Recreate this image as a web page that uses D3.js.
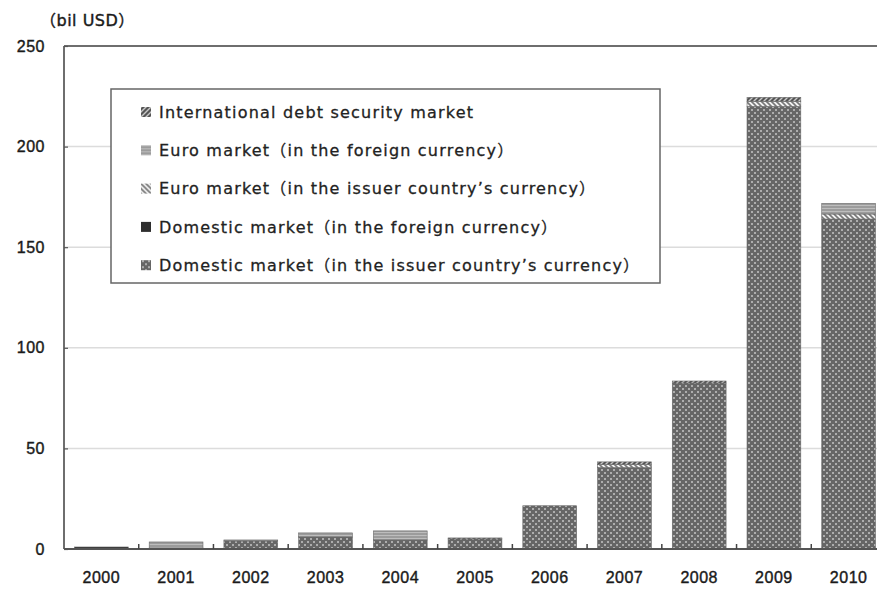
<!DOCTYPE html>
<html lang="en">
<head>
    <meta charset="UTF-8">
    <title>Debt security issuance by market</title>
    <script src="https://d3js.org/d3.v7.min.js"></script>
    <style>
        body { margin: 0; background: #fff; }
        svg { display: block; font-family: "DejaVu Sans", "Noto Sans CJK JP", sans-serif; }
        .tick-label { font-size: 16px; fill: #1a1a1a; stroke: #1a1a1a; stroke-width: 0.4px; letter-spacing: 0.5px; }
        .legend-text { font-size: 16px; fill: #222; stroke: #222; stroke-width: 0.3px; letter-spacing: 1.2px; }
    </style>
</head>
<body>
    <svg id="chart" width="877" height="593"></svg>
    <script>
        const years = ["2000", "2001", "2002", "2003", "2004", "2005", "2006", "2007", "2008", "2009", "2010"];
        const domIssuer   = [0.3, 0.5, 4, 6, 4.5, 5, 21.5, 40.5, 82.5, 220, 164];
        const domForeign  = [0.7, 0, 0, 0, 0, 0, 0, 0, 0, 0, 0];
        const euroIssuer  = [0, 0, 0, 0, 0, 0, 0, 1.5, 0, 2.5, 2.5];
        const euroForeign = [0, 3, 0.5, 2, 4.5, 0, 0, 0, 0, 0, 5.3];
        const intl        = [0, 0, 0, 0, 0, 0.5, 0, 1.3, 1, 2, 0];
        const yTicks = [0, 50, 100, 150, 200, 250];

        // stacking order bottom -> top
        const seriesKeys = ["domIssuer", "domForeign", "euroIssuer", "euroForeign", "intl"];
        const seriesVals = { domIssuer, domForeign, euroIssuer, euroForeign, intl };
        // legend order top -> bottom
        const legendItems = [
            { key: "intl", label: "International debt security market" },
            { key: "euroForeign", label: "Euro market（in the foreign currency）" },
            { key: "euroIssuer", label: "Euro market（in the issuer country’s currency）" },
            { key: "domForeign", label: "Domestic market（in the foreign currency）" },
            { key: "domIssuer", label: "Domestic market（in the issuer country’s currency）" }
        ];

        const table = years.map((y, i) => {
            const row = { year: y };
            seriesKeys.forEach(k => row[k] = seriesVals[k][i]);
            return row;
        });

        const svg = d3.select("#chart");
        const plot = { left: 64, top: 46, bottom: 549, right: 886 };

        // patterns
        const defs = svg.append("defs");
        const pDom = defs.append("pattern").attr("id", "p-domIssuer")
            .attr("patternUnits", "userSpaceOnUse").attr("width", 6).attr("height", 6);
        pDom.append("rect").attr("width", 6).attr("height", 6).attr("fill", "#666");
        pDom.append("rect").attr("x", 1).attr("y", 1).attr("width", 2).attr("height", 2).attr("fill", "#adadad");
        pDom.append("rect").attr("x", 4).attr("y", 4).attr("width", 2).attr("height", 2).attr("fill", "#adadad");

        const pEI = defs.append("pattern").attr("id", "p-euroIssuer")
            .attr("patternUnits", "userSpaceOnUse").attr("width", 5).attr("height", 5);
        pEI.append("rect").attr("width", 5).attr("height", 5).attr("fill", "#f2f2f2");
        pEI.append("path").attr("d", "M0,0L5,5M-1,4L1,6M4,-1L6,1").attr("stroke", "#777").attr("stroke-width", 1.6);

        const pEF = defs.append("pattern").attr("id", "p-euroForeign")
            .attr("patternUnits", "userSpaceOnUse").attr("width", 4).attr("height", 3);
        pEF.append("rect").attr("width", 4).attr("height", 3).attr("fill", "#9c9c9c");
        pEF.append("rect").attr("y", 1).attr("width", 4).attr("height", 1).attr("fill", "#bdbdbd");

        const pIn = defs.append("pattern").attr("id", "p-intl")
            .attr("patternUnits", "userSpaceOnUse").attr("width", 5).attr("height", 5);
        pIn.append("rect").attr("width", 5).attr("height", 5).attr("fill", "#555");
        pIn.append("path").attr("d", "M0,5L5,0M-1,1L1,-1M4,6L6,4").attr("stroke", "#c8c8c8").attr("stroke-width", 1.4);

        const fills = {
            domIssuer: "url(#p-domIssuer)",
            domForeign: "#2e2e2e",
            euroIssuer: "url(#p-euroIssuer)",
            euroForeign: "url(#p-euroForeign)",
            intl: "url(#p-intl)"
        };

        const x = d3.scaleBand().domain(years).range([plot.left, plot.right])
            .paddingInner(0.28).paddingOuter(0.14);
        const y = d3.scaleLinear().domain([0, 250]).range([plot.bottom, plot.top]);

        // gridlines
        svg.append("g").selectAll("line").data(yTicks.filter(t => t > 0 && t < 250)).join("line")
            .attr("x1", plot.left).attr("x2", 877)
            .attr("y1", d => y(d)).attr("y2", d => y(d))
            .attr("stroke", "#dcdcdc").attr("stroke-width", 1.5);

        // bars
        const stack = d3.stack().keys(seriesKeys)(table);
        svg.append("g").selectAll("g").data(stack).join("g")
            .attr("fill", d => fills[d.key])
            .selectAll("rect").data(d => d.filter(p => p[1] - p[0] > 0)).join("rect")
            .attr("x", d => x(d.data.year))
            .attr("width", x.bandwidth())
            .attr("y", d => y(d[1]))
            .attr("height", d => y(d[0]) - y(d[1]))
            .attr("stroke", "#6a6a6a").attr("stroke-width", 0.6);

        // frame: top, left, bottom
        svg.append("line").attr("x1", plot.left).attr("x2", 877).attr("y1", plot.top).attr("y2", plot.top)
            .attr("stroke", "#6e6e6e").attr("stroke-width", 2);
        svg.append("line").attr("x1", plot.left).attr("x2", plot.left).attr("y1", plot.top).attr("y2", plot.bottom)
            .attr("stroke", "#6e6e6e").attr("stroke-width", 2);
        svg.append("line").attr("x1", plot.left).attr("x2", 877).attr("y1", plot.bottom).attr("y2", plot.bottom)
            .attr("stroke", "#555").attr("stroke-width", 2);

        // y axis
        const yAxis = svg.append("g").attr("transform", `translate(${plot.left},0)`)
            .call(d3.axisLeft(y).tickValues(yTicks).tickSize(-4).tickPadding(19));
        yAxis.select(".domain").remove();
        yAxis.selectAll(".tick line").attr("stroke", "#555").attr("stroke-width", 1.2);
        yAxis.selectAll(".tick text").attr("class", "tick-label").attr("font-family", null).attr("font-size", null);

        // x axis
        const xAxis = svg.append("g").attr("transform", `translate(0,${plot.bottom})`)
            .call(d3.axisBottom(x).tickSize(0).tickPadding(23));
        xAxis.select(".domain").remove();
        xAxis.selectAll(".tick text").attr("class", "tick-label").attr("font-family", null).attr("font-size", null);
        const step = x.step();
        svg.append("g").selectAll("line").data(years.slice(1)).join("line")
            .attr("x1", d => x(d) - x.paddingOuter() * step)
            .attr("x2", d => x(d) - x.paddingOuter() * step)
            .attr("y1", plot.bottom).attr("y2", plot.bottom - 5)
            .attr("stroke", "#444").attr("stroke-width", 1.5);

        // unit label
        svg.append("text").attr("class", "tick-label").attr("x", 40).attr("y", 26)
            .text("（bil USD）");

        // legend
        const legend = svg.append("g");
        legend.append("rect").attr("x", 111).attr("y", 89).attr("width", 549).attr("height", 194)
            .attr("fill", "#fff").attr("stroke", "#666").attr("stroke-width", 1.5);
        const items = legend.selectAll("g.item").data(legendItems).join("g")
            .attr("class", "item")
            .attr("transform", (d, i) => `translate(141,${112 + i * 38.3})`);
        items.append("rect").attr("x", 0).attr("y", -5).attr("width", 10).attr("height", 10)
            .attr("fill", d => fills[d.key]);
        items.append("text").attr("class", "legend-text").attr("x", 18).attr("dy", "0.35em")
            .text(d => d.label);
    </script>
</body>
</html>
